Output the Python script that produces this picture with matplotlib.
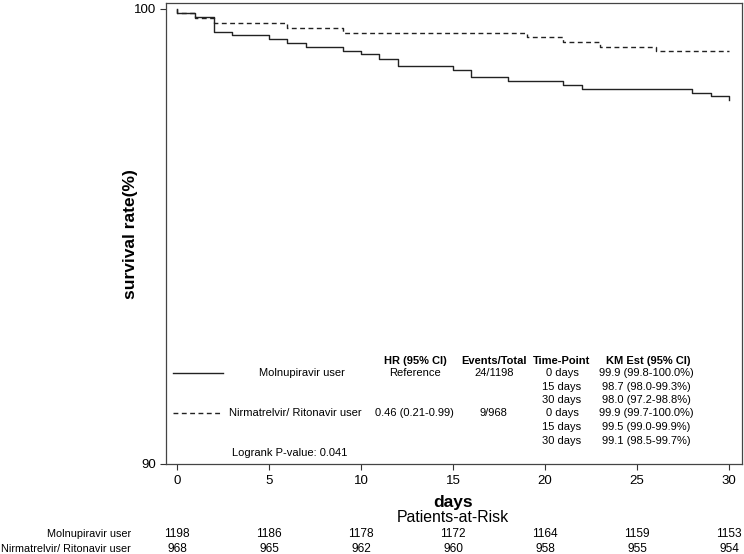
import matplotlib
matplotlib.use("Agg")
import matplotlib.pyplot as plt
import matplotlib.transforms as mtransforms

plt.rcParams['font.family'] = ['Liberation Sans', 'DejaVu Sans']

# ---- data ----
mol_days = [0, 0, 1, 2, 3, 5, 6, 7, 9, 10, 11, 12, 15, 16, 18, 21, 22, 28, 29, 30]
mol_surv = [100.0, 99.92, 99.83, 99.50, 99.42, 99.33, 99.25, 99.17, 99.08, 99.00,
            98.91, 98.75, 98.66, 98.50, 98.41, 98.33, 98.25, 98.16, 98.08, 97.99]
nir_days = [0, 0, 1, 2, 6, 9, 19, 21, 23, 26, 30]
nir_surv = [100.0, 99.90, 99.79, 99.69, 99.59, 99.48, 99.38, 99.27, 99.17, 99.07, 99.07]

group_names = ["Molnupiravir user", "Nirmatrelvir/ Ritonavir user"]
hr_text = ["Reference", "0.46 (0.21-0.99)"]
events_text = ["24/1198", "9/968"]
time_points = ["0 days", "15 days", "30 days"]
km_mol = ["99.9 (99.8-100.0%)", "98.7 (98.0-99.3%)", "98.0 (97.2-98.8%)"]
km_nir = ["99.9 (99.7-100.0%)", "99.5 (99.0-99.9%)", "99.1 (98.5-99.7%)"]
logrank = "Logrank P-value: 0.041"

risk_days = [0, 5, 10, 15, 20, 25, 30]
mol_risk = [1198, 1186, 1178, 1172, 1164, 1159, 1153]
nir_risk = [968, 965, 962, 960, 958, 955, 954]

# ---- figure ----
W, H = 744, 554
fig = plt.figure(figsize=(W / 100, H / 100), dpi=100)

def px(x, y):
    return x / W, 1 - y / H

L, R, T, B = 166, 742, 3, 464
ax = fig.add_axes([L / W, 1 - B / H, (R - L) / W, (B - T) / H])
line_col = '#222222'
ax.step(mol_days, mol_surv, where='post', color=line_col, lw=1.0)
ax.step(nir_days, nir_surv, where='post', color=line_col, lw=1.0, dashes=(3.5, 2.5))

ax.set_xlim(-0.6, 30.7)
ax.set_ylim(90, 100.13)
ax.set_xticks(risk_days)
ax.set_yticks([90, 100])
ax.tick_params(axis='both', direction='out', length=4.3, width=0.8, labelsize=9.5,
               color='#333333', pad=2.5)
ax.tick_params(axis='x', pad=3.5)
for s in ax.spines.values():
    s.set_color('#444444')
    s.set_linewidth(0.9)

fig.text(*px(131, 234), "survival rate(%)", rotation=90, fontsize=12.5,
         fontweight='bold', ha='center', va='center')

# ---- inset table ----
fs = 8
hdr_y = 361
rows_y = [373.5, 386.5, 400, 413.5, 427, 440.5]
fig.text(*px(415, hdr_y), "HR (95% CI)", fontsize=fs, fontweight='bold', ha='center', va='center')
fig.text(*px(494, hdr_y), "Events/Total", fontsize=fs, fontweight='bold', ha='center', va='center')
fig.text(*px(562, hdr_y), "Time-Point", fontsize=fs, fontweight='bold', ha='center', va='center')
fig.text(*px(648, hdr_y), "KM Est (95% CI)", fontsize=fs, fontweight='bold', ha='center', va='center')

# legend lines
fig.add_artist(plt.Line2D([173 / W, 223 / W], [1 - 372.5 / H, 1 - 372.5 / H],
                          color=line_col, lw=1.0, transform=fig.transFigure))
fig.add_artist(plt.Line2D([173 / W, 223 / W], [1 - 412.5 / H, 1 - 412.5 / H],
                          color=line_col, lw=1.0, dashes=(3.5, 2.5), transform=fig.transFigure))

fig.text(*px(301.5, rows_y[0]), group_names[0], fontsize=fs, ha='center', va='center')
fig.text(*px(295, rows_y[3]), group_names[1], fontsize=fs, ha='center', va='center')
fig.text(*px(415, rows_y[0]), hr_text[0], fontsize=fs, ha='center', va='center')
fig.text(*px(414, rows_y[3]), hr_text[1], fontsize=fs, ha='center', va='center')
fig.text(*px(494, rows_y[0]), events_text[0], fontsize=fs, ha='center', va='center')
fig.text(*px(493, rows_y[3]), events_text[1], fontsize=fs, ha='center', va='center')
for i, tp in enumerate(time_points):
    fig.text(*px(562, rows_y[i]), tp, fontsize=fs, ha='center', va='center')
    fig.text(*px(562, rows_y[i + 3]), tp, fontsize=fs, ha='center', va='center')
    fig.text(*px(646, rows_y[i]), km_mol[i], fontsize=fs, ha='center', va='center')
    fig.text(*px(646, rows_y[i + 3]), km_nir[i], fontsize=fs, ha='center', va='center')
fig.text(*px(232, 453), logrank, fontsize=fs, ha='left', va='center')

# ---- x label and risk table ----
fig.text(*px(453, 503), "days", fontsize=12.5, fontweight='bold', ha='center', va='center')
fig.text(*px(453, 518), "Patients-at-Risk", fontsize=11.4, ha='center', va='center')
trans = mtransforms.blended_transform_factory(ax.transData, fig.transFigure)
for d, a, b in zip(risk_days, mol_risk, nir_risk):
    ax.text(d, 1 - 534 / H, str(a), transform=trans, fontsize=8.6, ha='center', va='center')
    ax.text(d, 1 - 549 / H, str(b), transform=trans, fontsize=8.6, ha='center', va='center')
fig.text(*px(131, 534), group_names[0], fontsize=7.8, ha='right', va='center')
fig.text(*px(131, 549), group_names[1], fontsize=7.8, ha='right', va='center')

fig.savefig("out.png", dpi=100)
